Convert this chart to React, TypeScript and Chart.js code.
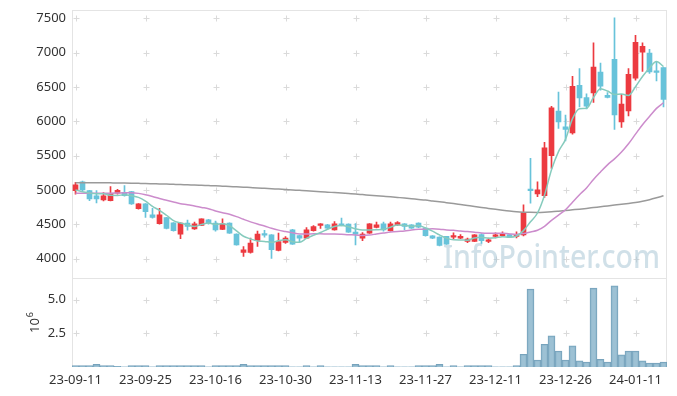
import React, { useEffect, useRef } from 'react';
import { Chart, registerables } from 'chart.js';

Chart.register(...registerables);

const dates = [
  '23-09-11','23-09-12','23-09-13','23-09-14','23-09-15','23-09-18','23-09-19','23-09-20','23-09-21','23-09-22',
  '23-09-25','23-09-26','23-09-27','23-10-04','23-10-05','23-10-06','23-10-10','23-10-11','23-10-12','23-10-13',
  '23-10-16','23-10-17','23-10-18','23-10-19','23-10-20','23-10-23','23-10-24','23-10-25','23-10-26','23-10-27',
  '23-10-30','23-10-31','23-11-01','23-11-02','23-11-03','23-11-06','23-11-07','23-11-08','23-11-09','23-11-10',
  '23-11-13','23-11-14','23-11-15','23-11-16','23-11-17','23-11-20','23-11-21','23-11-22','23-11-23','23-11-24',
  '23-11-27','23-11-28','23-11-29','23-11-30','23-12-01','23-12-04','23-12-05','23-12-06','23-12-07','23-12-08',
  '23-12-11','23-12-12','23-12-13','23-12-14','23-12-15','23-12-18','23-12-19','23-12-20','23-12-21','23-12-22',
  '23-12-26','23-12-27','23-12-28','24-01-02','24-01-03','24-01-04','24-01-05','24-01-08','24-01-09','24-01-10',
  '24-01-11','24-01-12','24-01-15','24-01-16','24-01-17'
];

const tickLabels = ['23-09-11','23-09-25','23-10-16','23-10-30','23-11-13','23-11-27','23-12-11','23-12-26','24-01-11'];

const opens = [
  4990,5120,4990,4913,4855,4845,4952,4960,4975,4728,
  4797,4637,4510,4598,4520,4356,4516,4430,4482,4564,
  4516,4424,4516,4356,4089,4089,4264,4356,4346,4118,
  4235,4419,4336,4298,4408,4481,4491,4419,4506,4501,
  4385,4298,4371,4452,4506,4408,4491,4506,4491,4516,
  4443,4332,4312,4322,4312,4298,4249,4249,4350,4249,
  4322,4332,4351,4322,4346,5010,4942,4917,5500,6148,
  5920,5833,6526,6347,6414,6719,6380,6903,5993,6152,
  6631,7010,6995,6729,6783
];
const highs = [
  5112,5130,4995,4990,4960,5048,5010,5062,4980,4800,
  4800,4733,4733,4600,4525,4520,4560,4530,4580,4570,
  4545,4578,4520,4360,4176,4298,4400,4410,4350,4371,
  4320,4425,4340,4452,4480,4510,4500,4540,4589,4505,
  4510,4380,4510,4530,4530,4530,4540,4510,4495,4520,
  4445,4335,4315,4325,4375,4350,4300,4350,4365,4300,
  4375,4390,4355,4390,4782,5460,5120,5693,6220,6428,
  6090,6656,6768,6400,7146,6850,6420,7510,6395,6768,
  7252,7146,7050,6864,6783
];
const lows = [
  4937,4990,4845,4810,4840,4840,4940,4910,4790,4720,
  4598,4590,4500,4430,4400,4288,4415,4425,4478,4500,
  4400,4420,4365,4195,4031,4080,4176,4310,4000,4110,
  4220,4205,4240,4290,4400,4440,4430,4415,4475,4380,
  4200,4260,4365,4445,4400,4400,4480,4420,4440,4450,
  4325,4290,4185,4205,4283,4290,4230,4245,4220,4230,
  4300,4320,4305,4300,4330,4807,4903,4890,5315,5896,
  5716,5814,6210,6180,6274,6453,6340,5882,5911,6080,
  6600,6729,6700,6588,6210
];
const closes = [
  5073,5000,4870,4870,4913,4952,4995,4917,4797,4797,
  4685,4598,4637,4438,4408,4516,4467,4506,4578,4520,
  4419,4506,4371,4200,4128,4225,4356,4341,4128,4249,
  4298,4211,4298,4419,4467,4506,4443,4506,4481,4385,
  4356,4356,4506,4491,4419,4506,4525,4467,4443,4458,
  4332,4298,4191,4211,4332,4322,4283,4346,4260,4273,
  4346,4361,4312,4346,4670,4990,5000,5615,6196,5993,
  5882,6511,6341,6220,6792,6511,6347,6094,6250,6686,
  7150,7092,6719,6714,6318
];

const maShort = [
  5000,4975,4955,4945,4945,4921,4920,4929,4915,4892,
  4838,4759,4703,4631,4553,4519,4493,4467,4495,4517,
  4498,4506,4479,4403,4325,4286,4256,4250,4236,4260,
  4274,4245,4237,4295,4339,4380,4427,4468,4481,4464,
  4434,4417,4417,4419,4426,4456,4489,4482,4472,4480,
  4445,4400,4344,4298,4273,4271,4268,4299,4309,4297,
  4302,4317,4310,4328,4407,4536,4664,4924,5294,5559,
  5737,6039,6185,6189,6349,6475,6442,6393,6399,6378,
  6505,6654,6779,6872,6799
];
const maMid = [
  4952,4952,4950,4950,4950,4952,4955,4958,4960,4950,
  4930,4905,4875,4850,4825,4800,4785,4765,4745,4727,
  4694,4669,4645,4611,4572,4535,4503,4475,4441,4414,
  4394,4375,4358,4357,4360,4360,4358,4358,4354,4347,
  4344,4336,4343,4358,4372,4386,4395,4401,4417,4427,
  4429,4433,4428,4417,4411,4401,4393,4385,4374,4369,
  4368,4369,4359,4352,4364,4388,4412,4469,4557,4634,
  4711,4822,4930,5030,5153,5262,5366,5453,5553,5673,
  5813,5950,6070,6189,6271
];
const maLong = [
  5106,5106,5105,5105,5104,5103,5102,5100,5098,5096,
  5094,5091,5088,5085,5082,5079,5075,5072,5068,5064,
  5060,5055,5050,5045,5040,5035,5030,5024,5018,5012,
  5006,5000,4994,4988,4981,4975,4968,4961,4954,4947,
  4940,4932,4924,4916,4908,4900,4891,4882,4872,4862,
  4852,4840,4828,4815,4802,4788,4774,4760,4745,4731,
  4717,4704,4692,4682,4676,4673,4672,4675,4681,4690,
  4700,4710,4720,4731,4743,4755,4767,4779,4791,4804,
  4818,4836,4858,4885,4915
];

// volume in millions of shares
const volumes = [
  0.1,0.1,0.1,0.2,0.1,0.1,0.05,0.02,0.1,0.1,
  0.1,0.02,0.1,0.1,0.1,0.1,0.1,0.1,0.1,0.02,
  0.1,0.1,0.1,0.1,0.2,0.1,0.1,0.1,0.1,0.1,
  0.1,0.02,0.02,0.1,0.02,0.1,0.02,0.02,0.02,0.02,
  0.2,0.1,0.1,0.1,0.02,0.1,0.02,0.02,0.02,0.1,
  0.1,0.1,0.2,0.02,0.1,0.02,0.1,0.1,0.1,0.1,
  0.02,0.02,0.02,0.1,0.95,5.8,0.52,1.69,2.31,1.19,
  0.52,1.57,0.45,0.37,5.87,0.57,0.37,6.04,0.9,1.19,
  1.19,0.45,0.3,0.3,0.37
];

const priceTicks = [4000, 4500, 5000, 5500, 6000, 6500, 7000, 7500];
const volumeTicks = [2.5, 5.0];

const UP = '#ec3a40';
const DOWN = '#68c3da';
const FONT = "'Noto Sans', 'DejaVu Sans', sans-serif";

export default function App() {
  const ref = useRef<HTMLCanvasElement>(null);

  useEffect(() => {
    if (!ref.current) return;
    const colors = closes.map((c, i) => (c >= opens[i] ? UP : DOWN));
    const tickIdx = dates.map((d, i) => (tickLabels.includes(d) ? i : -1)).filter((i) => i >= 0);

    const deco = {
      id: 'deco',
      beforeDatasetsDraw(chart: any) {
        const { ctx } = chart;
        const x = chart.scales.x;
        const y = chart.scales.y;
        const yv = chart.scales.yv;
        ctx.save();
        ctx.strokeStyle = '#e4e4e4';
        ctx.lineWidth = 1;
        const L = Math.round(x.left) + 0.5;
        const R = Math.round(x.right) - 0.5;
        ctx.beginPath();
        ctx.moveTo(L, Math.round(y.top) + 0.5);
        ctx.lineTo(R, Math.round(y.top) + 0.5);
        ctx.moveTo(L, Math.round(y.bottom) + 0.5);
        ctx.lineTo(R, Math.round(y.bottom) + 0.5);
        ctx.moveTo(L, Math.round(y.top));
        ctx.lineTo(L, Math.round(yv.bottom));
        ctx.moveTo(R, Math.round(y.top));
        ctx.lineTo(R, Math.round(yv.bottom));
        ctx.stroke();

        // grid crosses
        ctx.strokeStyle = '#dadada';
        ctx.beginPath();
        const cross = (px: number, py: number) => {
          const cx = Math.round(px) + 0.5;
          const cy = Math.round(py) + 0.5;
          ctx.moveTo(cx - 3, cy);
          ctx.lineTo(cx + 3, cy);
          ctx.moveTo(cx, cy - 3);
          ctx.lineTo(cx, cy + 3);
        };
        tickIdx.forEach((i) => {
          const px = x.getPixelForValue(i);
          priceTicks.forEach((v) => cross(px, y.getPixelForValue(v)));
          volumeTicks.forEach((v) => cross(px, yv.getPixelForValue(v)));
        });
        ctx.stroke();

        // watermark
        ctx.font = `500 32px ${FONT}`;
        ctx.fillStyle = 'rgba(170, 198, 214, 0.55)';
        ctx.textBaseline = 'alphabetic';
        ctx.textAlign = 'left';
        const text = 'InfoPointer.com';
        const w = ctx.measureText(text).width;
        const target = 217;
        ctx.translate(443, 268);
        ctx.scale(target / w, 1);
        ctx.fillText(text, 0, 0);
        ctx.restore();
      },
      afterDraw(chart: any) {
        const { ctx } = chart;
        ctx.save();
        ctx.fillStyle = '#333';
        ctx.translate(39, 333);
        ctx.rotate(-Math.PI / 2);
        ctx.font = `13px ${FONT}`;
        ctx.textAlign = 'left';
        ctx.textBaseline = 'alphabetic';
        ctx.fillText('10', 0, 0);
        const w = ctx.measureText('10').width;
        ctx.font = `9px ${FONT}`;
        ctx.fillText('6', w + 1, -6);
        ctx.restore();
      },
    };

    const chart = new Chart(ref.current, {
      data: {
        labels: dates,
        datasets: [
          { type: 'line', data: maShort, borderColor: '#86cbbd', borderWidth: 1.5, pointRadius: 0, cubicInterpolationMode: 'monotone', yAxisID: 'y', order: 0 } as any,
          { type: 'line', data: maMid, borderColor: '#cc8ccc', borderWidth: 1.5, pointRadius: 0, cubicInterpolationMode: 'monotone', yAxisID: 'y', order: 0 } as any,
          { type: 'line', data: maLong, borderColor: '#9a9a9a', borderWidth: 1.5, pointRadius: 0, cubicInterpolationMode: 'monotone', yAxisID: 'y', order: 0 } as any,
          { type: 'bar', data: lows.map((l, i) => [l, highs[i]]), backgroundColor: colors, barThickness: 1, grouped: false, yAxisID: 'y', order: 2 } as any,
          { type: 'bar', data: opens.map((o, i) => [o, closes[i]]), backgroundColor: colors, barThickness: 5, minBarLength: 1.5, grouped: false, yAxisID: 'y', order: 1 } as any,
          { type: 'bar', data: volumes, backgroundColor: 'rgba(140, 182, 204, 0.85)', borderColor: 'rgba(112, 158, 184, 0.95)', borderWidth: 1, barPercentage: 1, categoryPercentage: 1, grouped: false, yAxisID: 'yv', order: 3 } as any,
        ],
      },
      options: {
        responsive: false,
        animation: false,
        layout: { padding: { top: 10, right: 10, left: 0, bottom: 0 } },
        plugins: { legend: { display: false }, tooltip: { enabled: false } },
        scales: {
          x: {
            type: 'category',
            offset: true,
            grid: { display: false, drawTicks: false },
            border: { display: false },
            afterBuildTicks: (s: any) => { s.ticks = tickIdx.map((i) => ({ value: i })); },
            afterFit: (s: any) => { s.height = 29; },
            ticks: {
              autoSkip: false,
              maxRotation: 0,
              padding: 5,
              color: '#333',
              font: { family: FONT, size: 13 },
              callback: (v: any) => dates[v as number],
            },
          },
          yv: {
            type: 'linear',
            position: 'left',
            stack: 'main',
            stackWeight: 1,
            min: 0,
            max: 6.64,
            grid: { display: false, drawTicks: false },
            border: { display: false },
            afterBuildTicks: (s: any) => { s.ticks = volumeTicks.map((v) => ({ value: v })); },
            afterFit: (s: any) => { s.width = 72; s.paddingTop = 0; s.paddingBottom = 0; },
            ticks: { padding: 6, color: '#333', font: { family: FONT, size: 13 }, callback: (v: any) => Number(v).toFixed(1) },
          },
          y: {
            type: 'linear',
            position: 'left',
            stack: 'main',
            stackWeight: 3,
            min: 3720,
            max: 7623,
            grid: { display: false, drawTicks: false },
            border: { display: false },
            afterBuildTicks: (s: any) => { s.ticks = priceTicks.map((v) => ({ value: v })); },
            afterFit: (s: any) => { s.width = 72; s.paddingTop = 0; s.paddingBottom = 0; },
            ticks: { padding: 6, color: '#333', font: { family: FONT, size: 13 }, callback: (v: any) => String(v) },
          },
        },
      } as any,
      plugins: [deco],
    });
    return () => chart.destroy();
  }, []);

  return (
    <div style={{ position: 'fixed', left: 0, top: 0, width: 677, height: 396, background: '#fff' }}>
      <canvas ref={ref} width={677} height={396} style={{ display: 'block' }} />
    </div>
  );
}
